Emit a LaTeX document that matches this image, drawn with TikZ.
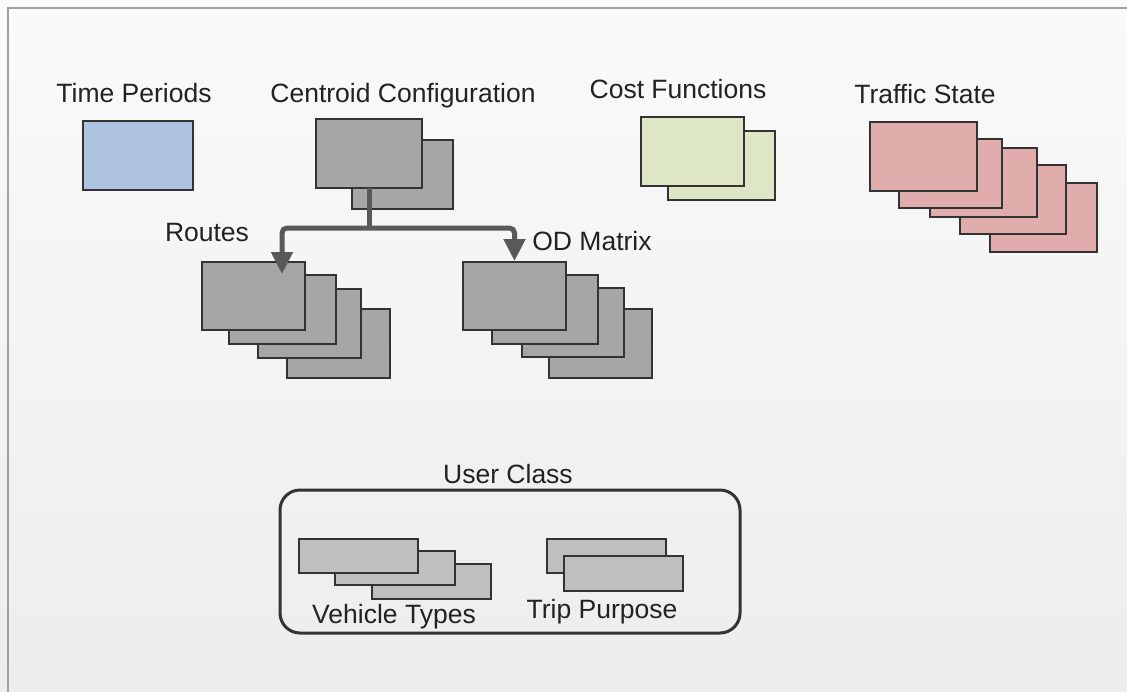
\documentclass[tikz,border=0pt]{standalone}
\usepackage{fontspec}
\setmainfont{Liberation Sans}
\usetikzlibrary{arrows.meta,calc}

\definecolor{bgtop}{HTML}{FAFAFA}
\definecolor{bgbot}{HTML}{EDEDED}
\definecolor{framegray}{HTML}{A0A0A0}
\definecolor{boxline}{HTML}{333333}
\definecolor{periodblue}{HTML}{ADC3E0}
\definecolor{costgreen}{HTML}{DDE7C6}
\definecolor{statered}{HTML}{E1ACAC}
\definecolor{datagray}{HTML}{A6A6A6}
\definecolor{classgray}{HTML}{BFBFBF}
\definecolor{linkgray}{HTML}{595959}
\definecolor{labeltext}{HTML}{222222}

\begin{document}
\begin{tikzpicture}[x=1pt,y=-1pt,
  card/.style={draw=boxline, line width=1.8pt, inner sep=0pt, outer sep=0pt,
               anchor=north west, minimum height=69pt},
  period/.style={card, fill=periodblue},
  cost/.style={card, fill=costgreen},
  state/.style={card, fill=statered},
  data/.style={card, fill=datagray},
  cls/.style={card, fill=classgray, minimum height=34pt},
  label/.style={anchor=base, inner sep=0pt, text=labeltext,
                font=\fontsize{26.5}{30}\selectfont},
  link/.style={draw=linkgray, line width=5pt, rounded corners=5pt},
  linkhead/.style={link, -{Triangle[width=21pt,length=22pt]}}
]
\useasboundingbox (0,0) rectangle (1127,691);

% background and outer frame
\shade[top color=bgtop, bottom color=bgbot] (0,0) rectangle (1127,691);
\draw[framegray, line width=2pt] (8,700) -- (8,8) -- (1140,8);

% time periods
\node[label] (tpl) at (134,102) {Time Periods};
\node[period, minimum width=110pt] (tp) at (83,121) {};

% centroid configuration
\node[label] (ccl) at (403,102) {Centroid Configuration};
\node[data, minimum width=101pt] (cc2) at (352,140) {};
\node[data, minimum width=106pt] (cc1) at (316,119) {};

% cost functions
\node[label] (cfl) at (678,98) {Cost Functions};
\node[cost, minimum width=107pt] (cf2) at (668,131) {};
\node[cost, minimum width=103pt] (cf1) at (641,117) {};

% traffic state
\node[label] (tsl) at (925,103) {Traffic State};
\node[state, minimum width=107pt] (ts5) at (990,183) {};
\node[state, minimum width=106pt] (ts4) at (960,165) {};
\node[state, minimum width=107pt] (ts3) at (930,148) {};
\node[state, minimum width=103pt] (ts2) at (899,139) {};
\node[state, minimum width=107pt] (ts1) at (870,122) {};

% routes
\node[label] (rtl) at (207,241) {Routes};
\node[data, minimum width=103pt] (rt4) at (287,309) {};
\node[data, minimum width=103pt] (rt3) at (258,289) {};
\node[data, minimum width=107pt] (rt2) at (229,275) {};
\node[data, minimum width=103pt, minimum height=68pt] (rt1) at (202,262) {};

% OD matrix
\node[label] (odl) at (592,250) {OD Matrix};
\node[data, minimum width=103pt] (od4) at (549,309) {};
\node[data, minimum width=102pt] (od3) at (522,288) {};
\node[data, minimum width=106pt] (od2) at (492,275) {};
\node[data, minimum width=103pt, minimum height=68pt] (od1) at (463,262) {};

% links from the centroid configuration
\coordinate (split) at ($(cc1.south)+(0,40)$);
\coordinate (rtin) at (282,274);
\coordinate (odin) at ($(od1.north)+(0,-1)$);
\draw[link] (cc1.south) -- (split);
\draw[linkhead] (split) -| (rtin);
\draw[linkhead] (split) -| (odin);

% user class
\node[label] (ucl) at (508,483) {User Class};
\draw[boxline, line width=3pt, rounded corners=20pt] (280,490) rectangle (740,633);
\node[cls, minimum width=119pt, minimum height=35pt] (vt3) at (372,564) {};
\node[cls, minimum width=120pt] (vt2) at (335,551) {};
\node[cls, minimum width=119pt] (vt1) at (299,539) {};
\node[label] (vtl) at (394,623) {Vehicle Types};
\node[cls, minimum width=119pt] (tr1) at (547,539) {};
\node[cls, minimum width=119pt, minimum height=35pt] (tr2) at (564,556) {};
\node[label] (trl) at (602,618) {Trip Purpose};
\end{tikzpicture}
\end{document}
